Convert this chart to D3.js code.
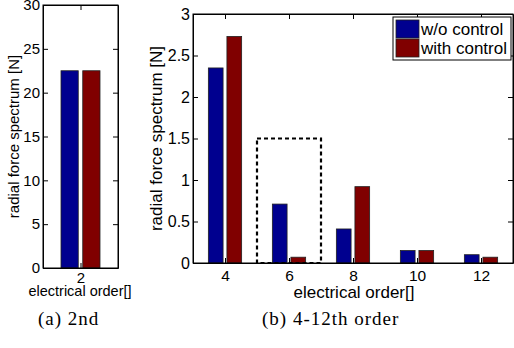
<!DOCTYPE html>
<html>
<head>
<meta charset="utf-8">
<script src="https://cdn.jsdelivr.net/npm/d3@7"></script>
<style>
  body { margin: 0; background: #fff; }
  svg text { font-family: "Liberation Sans", Arial, sans-serif; fill: #000; }
  .caption { font-family: "Liberation Serif", "Times New Roman", serif; }
</style>
</head>
<body>
<svg id="chart" width="514" height="348"></svg>
<script>
// 2nd order (panel a)
const ordersA = [2];
const woControlA = [22.5];
const withControlA = [22.5];
const yTicksA = [0, 5, 10, 15, 20, 25, 30];

// 4-12th order (panel b)
const ordersB = [4, 6, 8, 10, 12];
const woControlB = [2.35, 0.71, 0.41, 0.15, 0.10];
const withControlB = [2.73, 0.07, 0.92, 0.15, 0.07];
const yTicksB = [0, 0.5, 1, 1.5, 2, 2.5, 3];
const highlight = {x0: 5, x1: 7, y: 1.5};

const seriesNames = ["w/o control", "with control"];
const colors = ["#00008f", "#800000"];
const captions = ["(a) 2nd", "(b) 4-12th order"];

const svg = d3.select("#chart");

function drawPanel(opt) {
  const x = d3.scaleLinear().domain(opt.xDomain).range([opt.left, opt.right]);
  const y = d3.scaleLinear().domain(opt.yDomain).range([opt.bottom, opt.top]);
  const g = svg.append("g");

  // bars
  const barW = 0.46, off = 0.29;
  [opt.s1, opt.s2].forEach(function(vals, k) {
    g.selectAll(null)
      .data(opt.cats.map(function(c, i) { return {c: c, v: vals[i]}; }))
      .enter()
      .append("rect")
      .attr("x", function(d) { return x(d.c + (k === 0 ? -off : off) - barW / 2); })
      .attr("y", function(d) { return y(d.v); })
      .attr("width", x(barW) - x(0))
      .attr("height", function(d) { return y(0) - y(d.v); })
      .attr("fill", colors[k])
      .attr("stroke", "#222")
      .attr("stroke-width", 0.8);
  });

  // axes, ticks pointing inward on all four sides
  const tl = 5;
  g.append("g")
    .attr("transform", "translate(0," + opt.bottom + ")")
    .call(d3.axisBottom(x).tickValues(opt.cats).tickFormat(d3.format("d"))
      .tickSizeInner(-tl).tickSizeOuter(0).tickPadding(tl + opt.xPad))
    .call(function(a) { a.selectAll("text").style("font-size", opt.xTickFont + "px"); });
  g.append("g")
    .attr("transform", "translate(0," + opt.top + ")")
    .call(d3.axisTop(x).tickValues(opt.cats).tickFormat("")
      .tickSizeInner(-tl).tickSizeOuter(0));
  g.append("g")
    .attr("transform", "translate(" + opt.left + ",0)")
    .call(d3.axisLeft(y).tickValues(opt.yTicks).tickFormat(d3.format("~g"))
      .tickSizeInner(-tl).tickSizeOuter(0).tickPadding(3))
    .call(function(a) { a.selectAll("text").style("font-size", opt.yTickFont + "px"); });
  g.append("g")
    .attr("transform", "translate(" + opt.right + ",0)")
    .call(d3.axisRight(y).tickValues(opt.yTicks).tickFormat("")
      .tickSizeInner(-tl).tickSizeOuter(0));
  g.selectAll(".domain").attr("stroke", "#000");
  g.selectAll(".tick line").attr("stroke", "#000");

  // box
  g.append("rect")
    .attr("x", opt.left).attr("y", opt.top)
    .attr("width", opt.right - opt.left).attr("height", opt.bottom - opt.top)
    .attr("fill", "none").attr("stroke", "#000").attr("stroke-width", 1);

  // labels
  g.append("text")
    .attr("transform", "translate(" + opt.yLabelX + "," + ((opt.top + opt.bottom) / 2) + ") rotate(-90)")
    .attr("text-anchor", "middle")
    .style("font-size", opt.labelFont + "px")
    .text("radial force spectrum [N]");
  g.append("text")
    .attr("x", opt.xLabelCx).attr("y", opt.xLabelY)
    .attr("text-anchor", "middle")
    .style("font-size", (opt.xLabelFont || opt.labelFont) + "px")
    .text("electrical order[]");

  svg.append("text")
    .attr("class", "caption")
    .attr("x", opt.capX).attr("y", 325)
    .style("font-size", "19px")
    .style("letter-spacing", "1px")
    .text(opt.caption);

  return {x: x, y: y, g: g};
}

drawPanel({
  cats: ordersA, s1: woControlA, s2: withControlA, yTicks: yTicksA,
  xDomain: [1, 3], yDomain: [0, 30],
  left: 43, right: 118, top: 5, bottom: 268,
  xTickFont: 15, yTickFont: 15, labelFont: 15, xLabelFont: 14.5, xPad: -1,
  yLabelX: 19, xLabelCx: 80, xLabelY: 296,
  caption: captions[0], capX: 38
});

const pb = drawPanel({
  cats: ordersB, s1: woControlB, s2: withControlB, yTicks: yTicksB,
  xDomain: [3, 13], yDomain: [0, 3],
  left: 193, right: 513, top: 14, bottom: 263,
  xTickFont: 15.5, yTickFont: 16, labelFont: 17, xPad: 2,
  yLabelX: 162, xLabelCx: 354, xLabelY: 298,
  caption: captions[1], capX: 262
});

// dotted highlight box around order 6
pb.g.append("rect")
  .attr("x", pb.x(highlight.x0))
  .attr("y", pb.y(highlight.y))
  .attr("width", pb.x(highlight.x1) - pb.x(highlight.x0))
  .attr("height", pb.y(0) - pb.y(highlight.y))
  .attr("fill", "none")
  .attr("stroke", "#000")
  .attr("stroke-width", 2.2)
  .attr("stroke-dasharray", "4,3");

// legend
const lg = pb.g.append("g").attr("transform", "translate(393,17)");
lg.append("rect")
  .attr("width", 118).attr("height", 43)
  .attr("fill", "#fff").attr("stroke", "#000").attr("stroke-width", 1);
seriesNames.forEach(function(name, i) {
  lg.append("rect")
    .attr("x", 3).attr("y", 3 + i * 19)
    .attr("width", 23).attr("height", 18)
    .attr("fill", colors[i]).attr("stroke", "#222").attr("stroke-width", 0.8);
  lg.append("text")
    .attr("x", 28).attr("y", 18 + i * 19)
    .style("font-size", "17px")
    .text(name);
});
</script>
</body>
</html>
